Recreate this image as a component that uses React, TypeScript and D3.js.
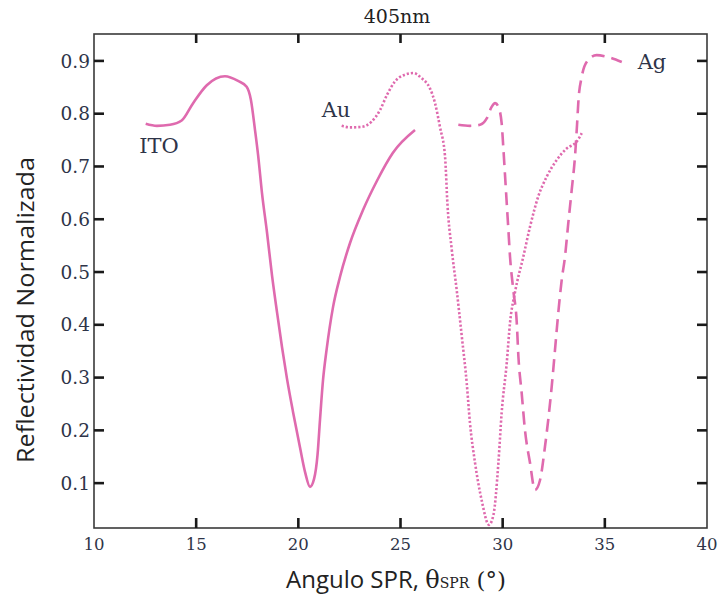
import React from "react";
import * as d3 from "d3";

// SPR reflectivity curves at 405 nm for three films
const itoAngle = [12.53, 13.08, 13.72, 14.29, 14.85, 15.52, 16.41, 17.05, 17.47, 17.68, 17.88, 18.03, 18.22, 18.47, 18.71, 18.96, 19.2, 19.44, 19.74, 20.08, 20.33, 20.57, 20.77, 20.94, 21.06, 21.21, 21.38, 21.7, 22.04, 22.53, 23.16, 23.85, 24.63, 25.71];
const itoRefl = [0.781, 0.777, 0.779, 0.787, 0.82, 0.854, 0.871, 0.862, 0.851, 0.826, 0.769, 0.722, 0.65, 0.574, 0.494, 0.423, 0.358, 0.299, 0.235, 0.168, 0.121, 0.093, 0.108, 0.154, 0.22, 0.296, 0.352, 0.434, 0.491, 0.555, 0.617, 0.673, 0.726, 0.769];

const auAngle = [22.12, 22.53, 23.1, 23.59, 24.0, 24.33, 24.73, 25.22, 25.63, 26.04, 26.44, 26.69, 26.93, 27.18, 27.3, 27.51, 27.75, 28.0, 28.24, 28.4, 28.65, 28.97, 29.33, 29.55, 29.79, 29.95, 30.2, 30.36, 30.6, 31.01, 31.34, 31.74, 32.16, 32.64, 33.13, 33.62, 33.87];
const auRefl = [0.777, 0.774, 0.775, 0.785, 0.807, 0.835, 0.861, 0.874, 0.877, 0.867, 0.848, 0.82, 0.775, 0.719, 0.627, 0.542, 0.466, 0.378, 0.29, 0.214, 0.138, 0.068, 0.021, 0.04, 0.138, 0.233, 0.328, 0.404, 0.461, 0.529, 0.586, 0.643, 0.681, 0.712, 0.734, 0.747, 0.763];

const agAngle = [27.83, 28.4, 28.89, 29.22, 29.46, 29.63, 29.79, 29.95, 30.03, 30.11, 30.2, 30.28, 30.36, 30.52, 30.69, 30.77, 30.93, 31.09, 31.34, 31.58, 31.83, 32.07, 32.23, 32.4, 32.56, 32.72, 32.89, 33.05, 33.21, 33.38, 33.54, 33.64, 33.71, 33.87, 34.11, 34.6, 35.09, 35.83];
const agRefl = [0.779, 0.777, 0.779, 0.791, 0.813, 0.82, 0.813, 0.782, 0.737, 0.687, 0.63, 0.58, 0.529, 0.466, 0.404, 0.34, 0.271, 0.201, 0.138, 0.087, 0.106, 0.169, 0.22, 0.283, 0.352, 0.422, 0.485, 0.529, 0.592, 0.656, 0.719, 0.779, 0.826, 0.87, 0.898, 0.911, 0.908, 0.898];

const xTicks = [10, 15, 20, 25, 30, 35, 40];
const yTicks = [0.1, 0.2, 0.3, 0.4, 0.5, 0.6, 0.7, 0.8, 0.9];

const W = 719;
const H = 596;
const left = 94;
const right = 707;
const top = 34;
const bottom = 528;

const pink = "#df6aae";
const tickColor = "#2e3448";
const serif = "'DejaVu Serif', serif";
const sans = "'Open Sans', sans-serif";

export default function App() {
  const x = d3.scaleLinear().domain([10, 40]).range([left, right]);
  const y = d3.scaleLinear().domain([0.015, 0.951]).range([bottom, top]);

  const line = d3
    .line<[number, number]>()
    .x((d) => x(d[0]))
    .y((d) => y(d[1]))
    .curve(d3.curveMonotoneX);

  const zip = (a: number[], b: number[]) => a.map((v, i) => [v, b[i]] as [number, number]);

  const innerX = xTicks.filter((t) => t > 10 && t < 40);

  return (
    <svg width={W} height={H} style={{ position: "absolute", left: 0, top: 0, background: "#fff" }}>
      {/* frame */}
      <rect x={left} y={top} width={right - left} height={bottom - top} fill="none" stroke="#3a3a3a" strokeWidth={1.6} />

      {/* inward ticks on all four sides */}
      {yTicks.map((t) => (
        <g key={"y" + t}>
          <line x1={left} x2={left + 10} y1={y(t)} y2={y(t)} stroke="#1a1a1a" strokeWidth={2.6} />
          <line x1={right} x2={right - 10} y1={y(t)} y2={y(t)} stroke="#1a1a1a" strokeWidth={2.6} />
          <text x={left - 4} y={y(t)} dy="0.36em" textAnchor="end" fontFamily={serif} fontSize={18.5} fill={tickColor}>
            {d3.format(".1f")(t)}
          </text>
        </g>
      ))}
      {innerX.map((t) => (
        <g key={"x" + t}>
          <line x1={x(t)} x2={x(t)} y1={bottom} y2={bottom - 10} stroke="#1a1a1a" strokeWidth={2.6} />
          <line x1={x(t)} x2={x(t)} y1={top} y2={top + 9} stroke="#1a1a1a" strokeWidth={2.6} />
        </g>
      ))}
      {xTicks.map((t) => (
        <text key={"xl" + t} x={x(t)} y={bottom + 22} textAnchor="middle" fontFamily={serif} fontSize={16.5} fill={tickColor}>
          {t}
        </text>
      ))}

      {/* curves */}
      <path d={line(zip(itoAngle, itoRefl)) || ""} fill="none" stroke={pink} strokeWidth={2.6} />
      <path d={line(zip(auAngle, auRefl)) || ""} fill="none" stroke={pink} strokeWidth={2.6} strokeDasharray="2.2,2" />
      <path d={line(zip(agAngle, agRefl)) || ""} fill="none" stroke={pink} strokeWidth={2.6} strokeDasharray="13,7" />

      {/* curve labels */}
      <text x={159} y={153} textAnchor="middle" fontFamily={serif} fontSize={21} fill={tickColor}>ITO</text>
      <text x={336} y={117} textAnchor="middle" fontFamily={serif} fontSize={21} fill={tickColor}>Au</text>
      <text x={652} y={69} textAnchor="middle" fontFamily={serif} fontSize={21} fill={tickColor}>Ag</text>

      {/* title */}
      <text x={397} y={23} textAnchor="middle" fontFamily={serif} fontSize={19} fill="#222">405nm</text>

      {/* axis titles */}
      <text
        transform={`translate(34, 310) rotate(-90)`}
        textAnchor="middle"
        fontFamily={sans}
        fontSize={24}
        textLength={306}
        lengthAdjust="spacingAndGlyphs"
        fill="#222"
      >
        Reflectividad Normalizada
      </text>
      <text x={396} y={588} textAnchor="middle" fill="#222">
        <tspan fontFamily={sans} fontSize={24}>Angulo SPR, </tspan>
        <tspan fontFamily={serif} fontSize={24}>θ</tspan>
        <tspan fontFamily={serif} fontSize={14}>SPR</tspan>
        <tspan fontFamily={serif} fontSize={23}> (°)</tspan>
      </text>
    </svg>
  );
}
